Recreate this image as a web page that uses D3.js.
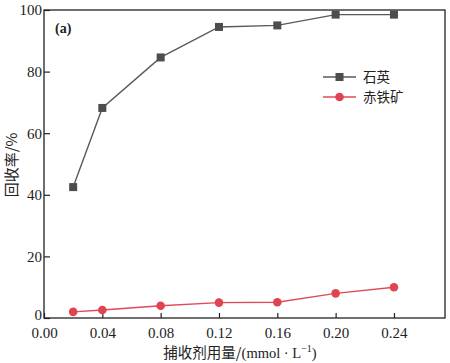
<!DOCTYPE html>
<html><head><meta charset="utf-8">
<script src="https://cdn.jsdelivr.net/npm/d3@7"></script>
<style>body{margin:0;background:#fff}</style>
</head><body>
<svg id="c" width="450" height="363"></svg>
<script>
const dosage = [0.02, 0.04, 0.08, 0.12, 0.16, 0.20, 0.24];
const quartz = [42.5, 68.2, 84.6, 94.5, 95.0, 98.5, 98.5];
const hematite = [2.0, 2.6, 4.0, 5.0, 5.1, 8.0, 10.0];
const xTicks = [0.00, 0.04, 0.08, 0.12, 0.16, 0.20, 0.24];
const yTicks = [0, 20, 40, 60, 80, 100];
const seriesNames = ["石英", "赤铁矿"];

const svg = d3.select("#c");
const L = 44, R = 445, T = 10, B = 318;
const x = d3.scaleLinear().domain([0, 0.275]).range([L, R]);
const y = d3.scaleLinear().domain([0, 100]).range([B, T]);
const serif = "'Liberation Serif','DejaVu Serif',serif";
const cjk = "'Noto Sans CJK SC',sans-serif";

svg.append("rect").attr("x", L).attr("y", T).attr("width", R - L).attr("height", B - T)
  .attr("fill", "none").attr("stroke", "#222").attr("stroke-width", 1.3);

const xa = svg.append("g").attr("transform", `translate(0,${B})`)
  .call(d3.axisBottom(x).tickValues(xTicks).tickSizeInner(-5).tickSizeOuter(0).tickPadding(9).tickFormat(d3.format(".2f")));
const ya = svg.append("g").attr("transform", `translate(${L},0)`)
  .call(d3.axisLeft(y).tickValues(yTicks).tickSizeInner(-6).tickSizeOuter(0).tickPadding(4));
[xa, ya].forEach(a => {
  a.select(".domain").remove();
  a.selectAll("line").attr("stroke", "#222").attr("stroke-width", 1.2);
  a.selectAll("text").attr("font-family", serif).attr("font-size", 15).attr("fill", "#222");
});
ya.selectAll("text").attr("dx", 2);
ya.selectAll("text").filter(d => d === 0).attr("dy", "0.1em");

const line = d3.line().x((d, i) => x(dosage[i])).y(d => y(d));
svg.append("path").datum(quartz).attr("d", line).attr("fill", "none").attr("stroke", "#5a5a5a").attr("stroke-width", 1.4);
svg.append("path").datum(hematite).attr("d", line).attr("fill", "none").attr("stroke", "#e04a55").attr("stroke-width", 1.4);
svg.selectAll(".sq").data(quartz).enter().append("rect")
  .attr("x", (d, i) => x(dosage[i]) - 4).attr("y", d => y(d) - 4).attr("width", 8).attr("height", 8).attr("fill", "#4d4d4d");
svg.selectAll(".ci").data(hematite).enter().append("circle")
  .attr("cx", (d, i) => x(dosage[i])).attr("cy", d => y(d)).attr("r", 4.3).attr("fill", "#e04450");

// legend
const lg = [{c: "#5a5a5a", m: "sq", fc: "#4d4d4d"}, {c: "#e04a55", m: "ci", fc: "#e04450"}];
lg.forEach((s, i) => {
  const yy = 77 + i * 20;
  svg.append("line").attr("x1", 323).attr("x2", 356).attr("y1", yy).attr("y2", yy).attr("stroke", s.c).attr("stroke-width", 1.4);
  if (s.m === "sq") svg.append("rect").attr("x", 335.5).attr("y", yy - 4).attr("width", 8).attr("height", 8).attr("fill", s.fc);
  else svg.append("circle").attr("cx", 339.5).attr("cy", yy).attr("r", 4.3).attr("fill", s.fc);
  svg.append("text").attr("x", 363).attr("y", yy + 5).text(seriesNames[i])
    .attr("font-family", cjk).attr("font-size", 13.5).attr("fill", "#222");
});

svg.append("text").attr("x", 55).attr("y", 33).text("(a)").attr("font-family", serif)
  .attr("font-size", 14).attr("font-weight", "bold").attr("fill", "#222");

svg.append("text").attr("transform", "translate(17,165) rotate(-90)").attr("text-anchor", "middle")
  .attr("font-family", cjk).attr("font-size", 15).attr("fill", "#222").text("回收率/%");

const xl = svg.append("text").attr("x", 240).attr("y", 358).attr("text-anchor", "middle")
  .attr("font-size", 14.5).attr("fill", "#222");
xl.append("tspan").attr("font-family", cjk).text("捕收剂用量/");
xl.append("tspan").attr("font-family", serif).text("(mmol · L");
xl.append("tspan").attr("font-family", serif).attr("font-size", 10).attr("dy", -6).text("−1");
xl.append("tspan").attr("font-family", serif).attr("dy", 6).text(")");
</script>
</body></html>
